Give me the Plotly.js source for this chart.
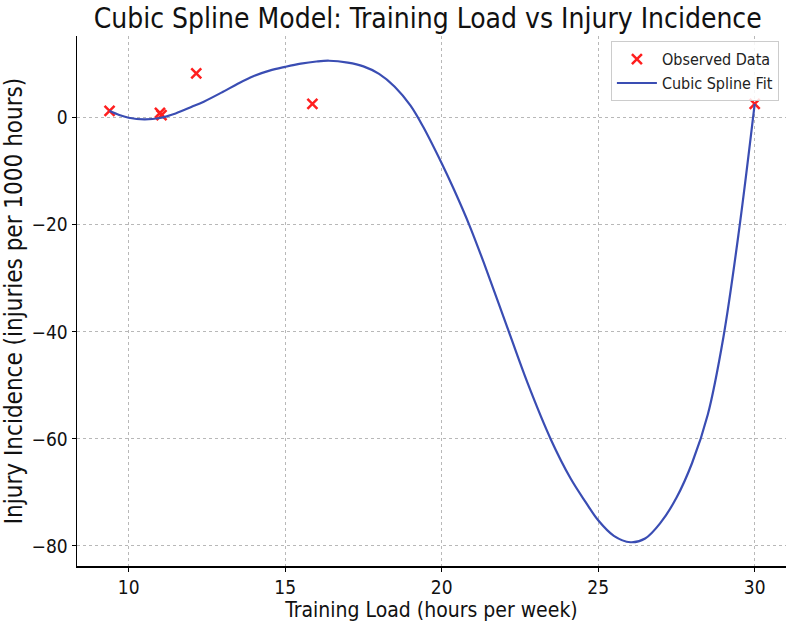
<!DOCTYPE html>
<html>
<head>
<meta charset="utf-8">
<script src="https://cdn.plot.ly/plotly-3.0.1.min.js"></script>
<style>
  html, body { margin: 0; padding: 0; background: #ffffff; }
  #chart { width: 792px; height: 625px; }
</style>
</head>
<body>
<div id="chart"></div>
<script>
const observedLoad = [9.39, 11.0, 11.05, 12.16, 15.87, 30.0];
const observedInjury = [1.3, 0.9, 0.5, 8.3, 2.6, 2.6];

// Cubic spline fit curve
const splineLoad = [9.39, 9.7, 10.0, 10.5, 11.0, 11.5, 12.0, 12.4, 13.0, 13.5, 14.0, 14.5, 15.0, 15.5, 16.0, 16.4,
  17.0, 17.5, 18.0, 18.5, 19.0, 19.4, 20.0, 20.4, 20.88, 21.36, 22.05, 22.74, 23.48, 24.12, 24.6, 25.0, 25.5, 26.03,
  26.5, 27.0, 27.5, 28.0, 28.5, 29.0, 29.5, 30.0];
const splineInjury = [1.3, 0.5, 0.0, -0.3, -0.05, 0.8, 2.0, 3.0, 4.8, 6.4, 7.8, 8.8, 9.5, 10.1, 10.5, 10.65,
  10.3, 9.6, 8.2, 5.8, 2.3, -1.6, -8.5, -13.5, -20.0, -27.3, -38.4, -49.5, -60.0, -67.4, -71.8, -75.2, -78.1, -79.3,
  -78.6, -75.6, -71.0, -64.5, -55.5, -41.0, -21.0, 2.6];

const xTicks = [10, 15, 20, 25, 30];
const yTicks = [0, -20, -40, -60, -80];

const FONT = "DejaVu Sans Condensed, DejaVu Sans, sans-serif";

const traces = [
  {
    x: observedLoad, y: observedInjury,
    type: 'scatter', mode: 'markers', name: 'Observed Data',
    marker: { symbol: 'x-thin', size: 10, color: '#ff1f1f', line: { width: 2.5, color: '#ff1f1f' } }
  },
  {
    x: splineLoad, y: splineInjury,
    type: 'scatter', mode: 'lines', name: 'Cubic Spline Fit',
    line: { color: '#3a4db3', width: 2.2, shape: 'spline', smoothing: 1 }
  }
];

const layout = {
  width: 792, height: 625,
  margin: { l: 77, r: 6, t: 36, b: 59 },
  paper_bgcolor: '#ffffff', plot_bgcolor: '#ffffff',
  font: { family: FONT, size: 18, color: '#222222' },
  title: {
    text: 'Cubic Spline Model: Training Load vs Injury Incidence',
    font: { family: FONT, size: 28, color: '#111111' },
    x: 0.54, xanchor: 'center', y: 0.971, yanchor: 'middle'
  },
  showlegend: true,
  legend: {
    x: 0.99, y: 0.99, xanchor: 'right', yanchor: 'top',
    bgcolor: 'rgba(255,255,255,0.85)', bordercolor: '#cccccc', borderwidth: 1,
    font: { family: FONT, size: 16, color: '#222222' },
    tracegroupgap: 0, itemwidth: 40
  },
  xaxis: {
    range: [8.35, 31.0],
    tickvals: xTicks, ticktext: xTicks.map(String),
    ticks: 'outside', ticklen: 4, tickwidth: 1, tickcolor: '#000000',
    showline: true, linecolor: '#000000', linewidth: 1.5,
    showgrid: true, gridcolor: '#b8b8b8', gridwidth: 1, griddash: 'dot',
    zeroline: false, automargin: false,
    tickfont: { family: FONT, size: 19, color: '#111111' },
    title: { text: 'Training Load (hours per week)', font: { family: FONT, size: 21, color: '#111111' }, standoff: 4 }
  },
  yaxis: {
    range: [-83.74, 15.27],
    tickvals: yTicks, ticktext: yTicks.map(v => v < 0 ? '\u2212' + Math.abs(v) : String(v)),
    ticks: 'outside', ticklen: 4, tickwidth: 1, tickcolor: '#000000',
    showline: true, linecolor: '#000000', linewidth: 1.5,
    showgrid: true, gridcolor: '#b8b8b8', gridwidth: 1, griddash: 'dot',
    zeroline: false, automargin: false,
    tickfont: { family: FONT, size: 19, color: '#111111' },
    title: { text: 'Injury Incidence (injuries per 1000 hours)', font: { family: FONT, size: 24, color: '#111111' }, standoff: 6 }
  }
};

Plotly.newPlot('chart', traces, layout, { displayModeBar: false, staticPlot: true });
</script>
</body>
</html>
